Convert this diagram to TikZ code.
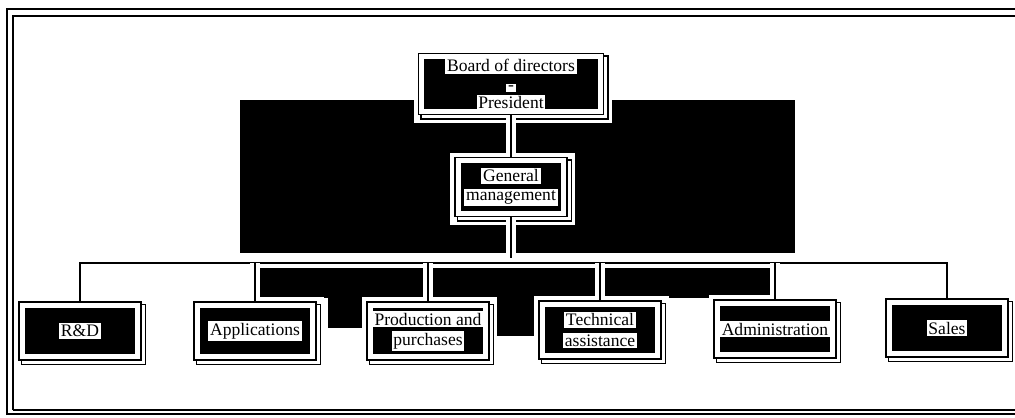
\documentclass[tikz,border=0pt]{standalone}
\usepackage{fontspec}
\setmainfont{Liberation Serif}
\usetikzlibrary{backgrounds}

\newcommand{\lab}[1]{{\setlength{\fboxsep}{1pt}\colorbox{white}{#1}}}
\newcommand{\tightfont}{\fontsize{10}{10.5}\selectfont\lineskiplimit=-20pt\relax}

\tikzset{
  box/.style={draw=black, line width=0.9pt, double=white, double distance=3pt,
    fill=black, align=center, inner sep=0pt,
    minimum width=2.31cm, minimum height=1.03cm,
    font=\fontsize{10}{11.6}\selectfont},
  tight/.style={font=\tightfont},
  link/.style={line width=0.9pt, preaction={draw=white, line width=6pt}}
}

\begin{document}
\begin{tikzpicture}[x=0.02cm, y=-0.02cm]
\useasboundingbox (0,0) rectangle (1015,417);

% frame
\draw[line width=1.3pt] (7,415) -- (7,9) -- (1015,9);
\draw[line width=0.6pt] (13,410) -- (13,16) -- (1015,16);
\draw[line width=1.3pt] (7,414) -- (1015,414);
\draw[line width=0.6pt] (13,410) -- (1015,410);

% boxes
\node[box, minimum width=3.57cm, minimum height=1.09cm, tight] (board) at (511,84)
  {\lab{Board of directors}\\\lab{-}\\\lab{President}};
\node[box, minimum width=2.11cm, minimum height=1.05cm, tight] (gm) at (511,187)
  {\lab{General}\\\lab{management}};
\node[box] (rd) at (80,331) {\lab{R\&D}};
\node[box] (app) at (255,331) {\lab{Applications}};
\node[box] (prod) at (428,331) {\lab{Production and}\\\lab{purchases}};
\node[box] (tech) at (600,330) {\lab{Technical}\\\lab{assistance}};
\node[box] (adm) at (775,329) {\lab{Administration}};
\node[box] (sales) at (947,328) {\lab{Sales}};

\coordinate (bus) at (0,263);

\begin{scope}[on background layer]
% dark areas of the scan
\fill[black] (240,100) rectangle (795,253);
\fill[black] (258,268) rectangle (770,298);
\fill[black] (490,298) rectangle (540,336);
\fill[black] (328,298) rectangle (366,328);
% white margins and shadows
\foreach \n in {board,gm,rd,app,prod,tech,adm,sales} {
  \fill[white] ([shift={(-4pt,4pt)}]\n.north west) rectangle ([shift={(6pt,-6pt)}]\n.south east);
  \draw[line width=0.8pt, fill=white] (\n.north west) rectangle ([shift={(4pt,-4pt)}]\n.south east);
}
% connectors
\draw[link] (board.south) -- (gm.north);
\draw[link] (gm.south) -- (gm.south |- bus);
\draw[link] (rd.north) -- (rd.north |- bus) -- (sales.north |- bus) -- (sales.north);
\foreach \n in {app,prod,tech,adm}
  \draw[link] (\n.north) -- (\n.north |- bus);
\end{scope}
\end{tikzpicture}
\end{document}
